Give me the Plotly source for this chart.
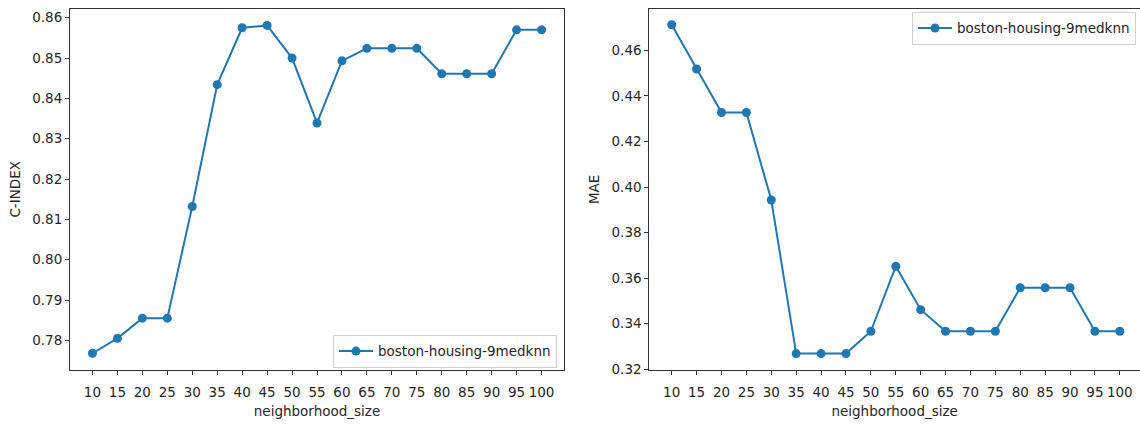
import plotly.graph_objects as go

neighborhood_size = [10, 15, 20, 25, 30, 35, 40, 45, 50, 55, 60, 65, 70, 75, 80, 85, 90, 95, 100]
c_index = [0.7768, 0.7805, 0.7855, 0.7855, 0.8132, 0.8434, 0.8575, 0.8581, 0.8500, 0.8339,
           0.8493, 0.8524, 0.8524, 0.8524, 0.8461, 0.8461, 0.8461, 0.8570, 0.8570]
mae = [0.4712, 0.4518, 0.4327, 0.4327, 0.3943, 0.3269, 0.3269, 0.3269, 0.3367, 0.3652,
       0.3462, 0.3367, 0.3367, 0.3367, 0.3558, 0.3558, 0.3558, 0.3367, 0.3367]
series_name = "boston-housing-9medknn"
x_title = "neighborhood_size"
y_title_left = "C-INDEX"
y_title_right = "MAE"

W, H = 1140, 424
BLUE = "#1f77b4"
TXT = "#262626"
SPINE = "#333333"
FONT = "DejaVu Sans"
FS = 13.5

fig = go.Figure()
fig.add_trace(go.Scatter(x=neighborhood_size, y=c_index, mode="lines+markers", name=series_name,
                         line=dict(color=BLUE, width=2), marker=dict(color=BLUE, size=9),
                         xaxis="x", yaxis="y", legend="legend"))
fig.add_trace(go.Scatter(x=neighborhood_size, y=mae, mode="lines+markers", name=series_name,
                         line=dict(color=BLUE, width=2), marker=dict(color=BLUE, size=9),
                         xaxis="x2", yaxis="y2", legend="legend2"))

ydom = [1 - 376 / H, 1 - 9 / H]
common_x = dict(tickmode="array", tickvals=neighborhood_size, ticks="outside", ticklen=4,
                tickcolor=SPINE, showline=True, linecolor=SPINE, linewidth=1, mirror=True,
                showgrid=False, zeroline=False, tickfont=dict(size=FS, color=TXT),
                ticklabelstandoff=6,
                title=dict(text=x_title, font=dict(size=FS, color=TXT), standoff=7))
common_y = dict(ticks="outside", ticklen=4, tickcolor=SPINE, showline=True, linecolor=SPINE,
                linewidth=1, showgrid=False, zeroline=False, tickfont=dict(size=FS, color=TXT),
                tickformat=".2f")

legend_style = dict(bgcolor="rgba(255,255,255,0.8)", bordercolor="#d0d0d0", borderwidth=1,
                    font=dict(size=FS, color=TXT), itemwidth=34)

fig.update_layout(
    width=W, height=H,
    margin=dict(l=0, r=0, t=0, b=0),
    paper_bgcolor="white", plot_bgcolor="white",
    font=dict(family=FONT, size=FS, color=TXT),
    xaxis=dict(domain=[70 / W, 564 / W], range=[5.5, 104.5], anchor="y", **common_x),
    yaxis=dict(domain=ydom, range=[0.7727, 0.8622], dtick=0.01, tick0=0.78, anchor="x",
               mirror=True,
               title=dict(text=y_title_left, font=dict(size=FS, color=TXT), standoff=8),
               **common_y),
    xaxis2=dict(domain=[649.3 / W, 1.0], range=[5.5, 104.05], anchor="y2", **common_x),
    yaxis2=dict(domain=ydom, range=[0.3198, 0.4782], dtick=0.02, tick0=0.32, anchor="x2",
                mirror=False,
                title=dict(text=y_title_right, font=dict(size=FS, color=TXT), standoff=8),
                **common_y),
    legend=dict(x=557 / W, y=1 - 374 / H, xanchor="right", yanchor="bottom", **legend_style),
    legend2=dict(x=1136 / W, y=1 - 12 / H, xanchor="right", yanchor="top", **legend_style),
    showlegend=True,
)

fig.write_html("out.html")
